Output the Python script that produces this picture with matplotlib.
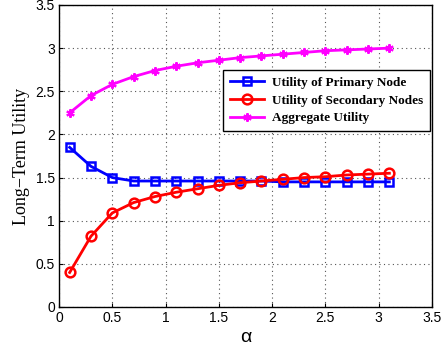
import matplotlib
matplotlib.use("Agg")
import matplotlib.pyplot as plt

# alpha values and utilities
alpha = [0.1, 0.3, 0.5, 0.7, 0.9, 1.1, 1.3, 1.5, 1.7, 1.9, 2.1, 2.3, 2.5, 2.7, 2.9, 3.1]
primary = [1.85, 1.63, 1.50, 1.46, 1.46, 1.46, 1.46, 1.46, 1.46, 1.46,
           1.45, 1.45, 1.45, 1.45, 1.45, 1.45]
secondary = [0.40, 0.82, 1.09, 1.21, 1.28, 1.33, 1.37, 1.41, 1.44, 1.46,
             1.48, 1.50, 1.51, 1.53, 1.54, 1.55]
aggregate = [2.25, 2.45, 2.58, 2.67, 2.74, 2.79, 2.83, 2.86, 2.89, 2.91,
             2.93, 2.95, 2.97, 2.98, 2.99, 3.00]

x_ticks = [0, 0.5, 1, 1.5, 2, 2.5, 3, 3.5]
y_ticks = [0, 0.5, 1, 1.5, 2, 2.5, 3, 3.5]
tick_labels = ["0", "0.5", "1", "1.5", "2", "2.5", "3", "3.5"]

fig = plt.figure(figsize=(4.45, 3.47), dpi=100)
ax = fig.add_axes([0.1326, 0.1153, 0.8382, 0.8703])

ax.plot(alpha, primary, color="#0000ff", lw=2, marker="s", ms=6,
        mfc="none", mew=1.8, label="Utility of Primary Node")
ax.plot(alpha, secondary, color="#ff0000", lw=2, marker="o", ms=7,
        mfc="none", mew=1.8, label="Utility of Secondary Nodes")
ax.plot(alpha, aggregate, color="#ff00ff", lw=2, marker=(6, 2, 0), ms=6,
        mew=1.5, label="Aggregate Utility")

ax.set_xlim(0, 3.5)
ax.set_ylim(0, 3.5)
ax.set_xticks(x_ticks)
ax.set_xticklabels(tick_labels, family="Liberation Sans", fontsize=10)
ax.set_yticks(y_ticks)
ax.set_yticklabels(tick_labels, family="Liberation Sans", fontsize=10)
ax.tick_params(direction="in", length=3, width=0.8, pad=3)
ax.grid(True, linestyle=(0, (1, 3)), color="#555555", linewidth=0.8)
for s in ax.spines.values():
    s.set_linewidth(1.0)

ax.set_xlabel("α", family="Liberation Sans", fontsize=14, labelpad=3)
ax.set_ylabel("Long\u2212Term Utility", family="Liberation Serif", fontsize=13, labelpad=4)

leg = ax.legend(loc="upper right", bbox_to_anchor=(0.9946, 0.785),
                borderaxespad=0,
                prop={"family": "Liberation Serif", "weight": "bold", "size": 9.5},
                fancybox=False, edgecolor="black", framealpha=1,
                handlelength=2.6, handletextpad=0.6, borderpad=0.5,
                labelspacing=0.42)
leg.get_frame().set_linewidth(1.0)

fig.savefig("out.png", dpi=100)
